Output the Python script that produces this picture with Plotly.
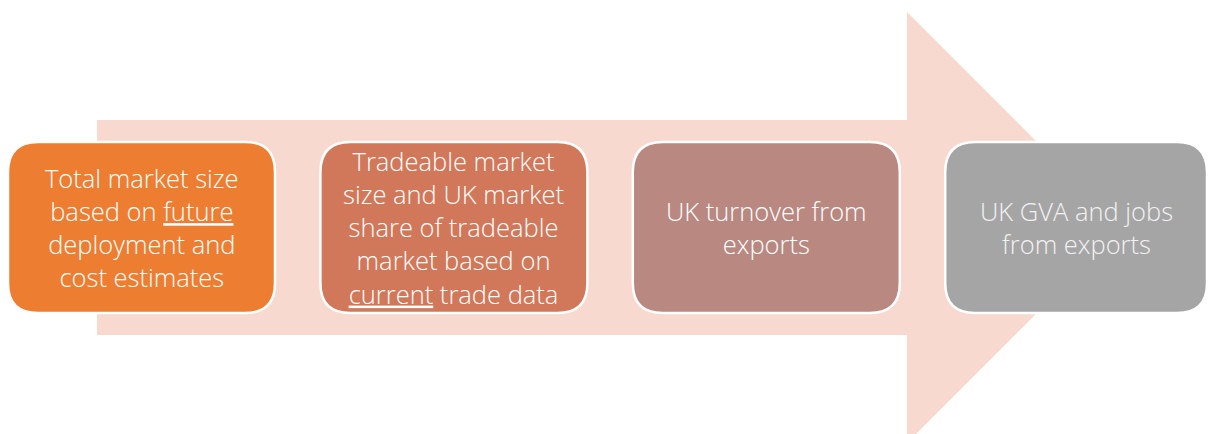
import plotly.graph_objects as go

# ---- data ----
step_labels = [
    "Total market size<br>based on <u>future</u><br>deployment and<br>cost estimates",
    "Tradeable market<br>size and UK market<br>share of tradeable<br>market based on<br><u>current</u> trade data",
    "UK turnover from<br>exports",
    "UK GVA and jobs<br>from exports",
]
step_colors = ["#ED7D31", "#D2785A", "#B98981", "#A5A5A5"]
text_colors = ["#FFFFFF", "#FFFFFF", "#FFFFFF", "#F2F2F2"]
arrow_color = "#F8D9CF"

W, H = 1209, 434

# ---- geometry ----
shaft_x0, shaft_x1 = 97, 907
shaft_y0, shaft_y1 = 120, 335
head_y0, head_y1 = 12, 443
cy = (head_y0 + head_y1) / 2
tip_x = shaft_x1 + (cy - head_y0)

box_x0 = 8
box_pitch = 312.4
box_w = 267
box_y0, box_y1 = 142, 313
r = 30


def rrect(x0, y0, x1, y1, r):
    return (f"M {x0+r},{y0} L {x1-r},{y0} Q {x1},{y0} {x1},{y0+r} "
            f"L {x1},{y1-r} Q {x1},{y1} {x1-r},{y1} L {x0+r},{y1} "
            f"Q {x0},{y1} {x0},{y1-r} L {x0},{y0+r} Q {x0},{y0} {x0+r},{y0} Z")


shapes = []
arrow_path = (f"M {shaft_x0},{shaft_y0} L {shaft_x1},{shaft_y0} L {shaft_x1},{head_y0} "
              f"L {tip_x},{cy} L {shaft_x1},{head_y1} L {shaft_x1},{shaft_y1} "
              f"L {shaft_x0},{shaft_y1} Z")
shapes.append(dict(type="path", path=arrow_path, xref="x", yref="y",
                   fillcolor=arrow_color, line=dict(width=0), layer="below"))

annotations = []
for i, (lab, col, tc) in enumerate(zip(step_labels, step_colors, text_colors)):
    x0 = box_x0 + i * box_pitch
    x1 = min(x0 + box_w, W - 2)
    shapes.append(dict(type="path", path=rrect(x0, box_y0, x1, box_y1, r),
                       xref="x", yref="y", fillcolor=col,
                       line=dict(color="white", width=2.5)))
    annotations.append(dict(x=(x0 + x1) / 2, y=(box_y0 + box_y1) / 2,
                            xref="x", yref="y", text=lab, showarrow=False,
                            align="center", xanchor="center", yanchor="middle",
                            font=dict(family="Open Sans", size=25.5, color=tc, weight=300)))

fig = go.Figure()
fig.add_trace(go.Scatter(x=[0, W], y=[0, H], mode="markers",
                         marker=dict(opacity=0), hoverinfo="skip", showlegend=False))
fig.update_layout(
    width=W, height=H, margin=dict(l=0, r=0, t=0, b=0),
    paper_bgcolor="white", plot_bgcolor="white",
    xaxis=dict(range=[0, W], visible=False, fixedrange=True),
    yaxis=dict(range=[H, 0], visible=False, fixedrange=True),
    shapes=shapes, annotations=annotations, showlegend=False,
)
fig.write_html(
    "out.html",
    config={"displayModeBar": False},
    post_script="document.body.style.margin='0';document.body.style.overflow='hidden';",
)
